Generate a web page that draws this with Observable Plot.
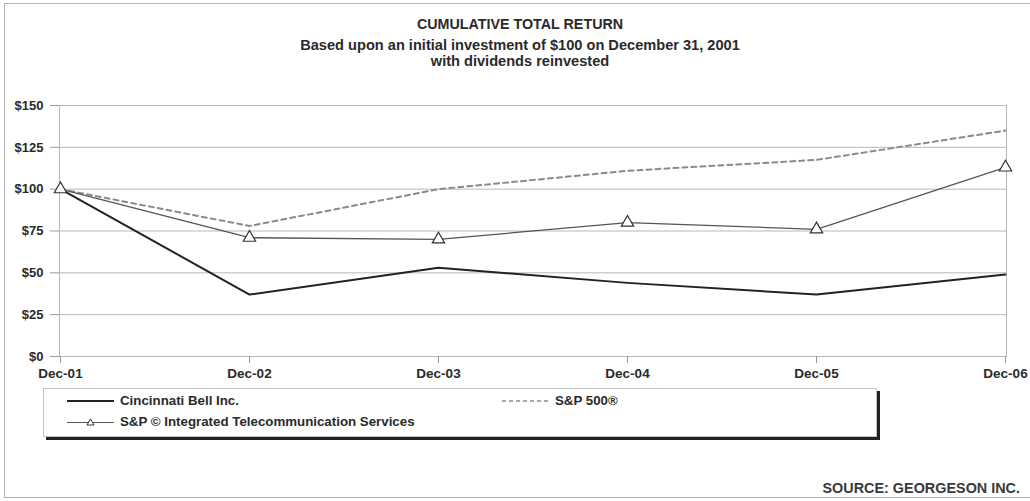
<!DOCTYPE html>
<html>
<head>
<meta charset="utf-8">
<script src="https://cdn.jsdelivr.net/npm/d3@7"></script>
<script src="https://cdn.jsdelivr.net/npm/@observablehq/plot@0.6"></script>
<style>
  html, body { margin: 0; padding: 0; background: #fff; }
  body { font-family: "Liberation Sans", Arial, Helvetica, sans-serif; }
  #wrap { position: relative; width: 1030px; height: 501px; overflow: hidden; background: #fff; }
  #frame { position: absolute; left: 4px; top: 3px; width: 1040px; height: 495px; border: 1px solid #b0b0b0; box-sizing: border-box; }
  .title { position: absolute; left: 0; width: 1040px; text-align: center; font-weight: bold; color: #2a2a2a; }
  #chart { position: absolute; left: 0; top: 90px; }
  #legend { position: absolute; left: 43px; top: 388px; width: 834px; height: 49px; border: 1px solid #c4c4c4; box-sizing: border-box; background: #fff; box-shadow: 3px 3px 0 #222; }
  .item { position: absolute; display: flex; align-items: center; font-size: 13.3px; font-weight: bold; color: #2a2a2a; white-space: nowrap; }
  .item svg { margin-right: 5px; }
  #source { position: absolute; right: 10px; top: 480px; font-size: 14.4px; font-weight: bold; color: #3a3a3a; }
</style>
</head>
<body>
<div id="wrap">
  <div id="frame"></div>
  <div class="title" style="top:16px;font-size:14.3px;">CUMULATIVE TOTAL RETURN</div>
  <div class="title" style="top:37px;font-size:14.6px;">Based upon an initial investment of $100 on December 31, 2001</div>
  <div class="title" style="top:53px;font-size:14.6px;">with dividends reinvested</div>
  <div id="chart"></div>
  <div id="legend"></div>
  <div id="source">SOURCE: GEORGESON INC.</div>
</div>
<script>
// ---- data ----
const categories = ["Dec-01", "Dec-02", "Dec-03", "Dec-04", "Dec-05", "Dec-06"];
const cincinnatiBell = [100, 37, 53, 44, 37, 49];
const sp500 = [100, 78, 100, 111, 117.5, 135];
const telecom = [100, 71, 70, 80, 76, 113];
const yTicks = [0, 25, 50, 75, 100, 125, 150];
const seriesNames = ["Cincinnati Bell Inc.", "S&P 500®", "S&P © Integrated Telecommunication Services"];

const toRows = (vals, name) => vals.map((v, i) => ({ date: categories[i], value: v, series: name }));
const cbRows = toRows(cincinnatiBell, seriesNames[0]);
const spRows = toRows(sp500, seriesNames[1]);
const tcRows = toRows(telecom, seriesNames[2]);

const font = "'Liberation Sans', Arial, Helvetica, sans-serif";

const chart = Plot.plot({
  width: 1030,
  height: 296,
  marginLeft: 59,
  marginRight: 24,
  marginTop: 15,
  marginBottom: 30,
  style: { fontFamily: font, background: "transparent", overflow: "visible" },
  x: { type: "point", domain: categories, padding: 0, axis: null },
  y: { domain: [0, 150], axis: null },
  marks: [
    Plot.gridY(yTicks, { stroke: "#b8b8b8", strokeOpacity: 1, strokeWidth: 1 }),
    Plot.frame({ stroke: "#b8b8b8", strokeWidth: 1 }),
    Plot.axisY(yTicks, {
      tickSize: 9, tickPadding: 7, tickFormat: d => "$" + d,
      fontSize: 13, fontWeight: "bold", fill: "#2a2a2a", stroke: "#999", label: null
    }),
    Plot.axisX(categories, {
      tickSize: 7, tickPadding: 5,
      fontSize: 13.5, fontWeight: "bold", fill: "#2a2a2a", stroke: "#999", label: null
    }),
    Plot.line(spRows, { x: "date", y: "value", stroke: "#8a8a8a", strokeWidth: 2, strokeDasharray: "5,4" }),
    Plot.line(tcRows, { x: "date", y: "value", stroke: "#555", strokeWidth: 1.3 }),
    Plot.line(cbRows, { x: "date", y: "value", stroke: "#222", strokeWidth: 2 }),
    Plot.dot(tcRows, { x: "date", y: "value", symbol: "triangle", r: 4.6, fill: "#fff", stroke: "#333", strokeWidth: 1.2 })
  ]
});
document.getElementById("chart").appendChild(chart);

// ---- legend ----
const legend = document.getElementById("legend");
function addItem(name, left, top, swatch) {
  const d = document.createElement("div");
  d.className = "item";
  d.style.left = left + "px";
  d.style.top = top + "px";
  d.innerHTML = swatch + "<span>" + name + "</span>";
  legend.appendChild(d);
}
addItem(seriesNames[0], 23, 4,
  '<svg width="48" height="10"><line x1="0" x2="47" y1="5" y2="5" stroke="#222" stroke-width="2"/></svg>');
addItem(seriesNames[1], 458, 4,
  '<svg width="48" height="10"><line x1="0" x2="47" y1="5" y2="5" stroke="#8a8a8a" stroke-width="1.3" stroke-dasharray="4,3"/></svg>');
addItem(seriesNames[2], 23, 25,
  '<svg width="48" height="10"><line x1="0" x2="47" y1="5.5" y2="5.5" stroke="#555" stroke-width="1.2"/><path d="M23.5,2 L27,8 L20,8 Z" fill="#fff" stroke="#333" stroke-width="1"/></svg>');
</script>
</body>
</html>
